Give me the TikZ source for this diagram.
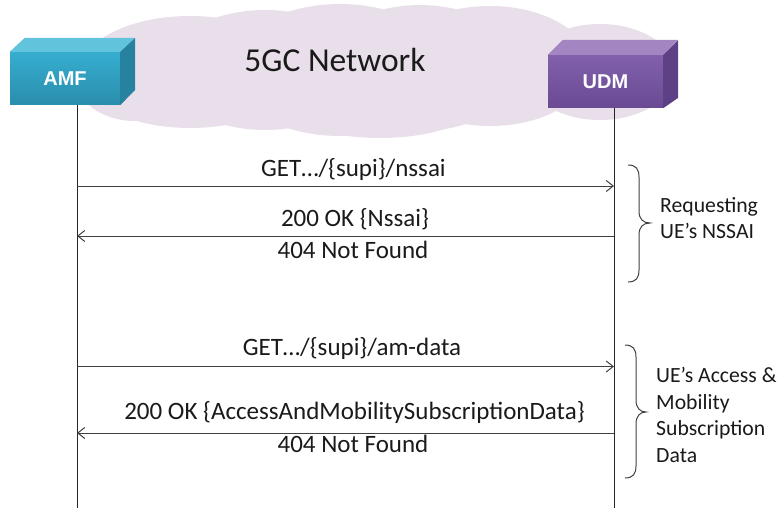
\documentclass[tikz,border=0pt]{standalone}
\usepackage{fontspec}
\setmainfont{Carlito}
\newfontfamily\boxfont{Liberation Sans}
\usetikzlibrary{arrows.meta}
\definecolor{cloudc}{HTML}{E9DFEA}
\definecolor{amfA}{HTML}{36AED0}
\definecolor{amfB}{HTML}{2A8DAC}
\definecolor{amfT}{HTML}{62C3DC}
\definecolor{amfR}{HTML}{2782A0}
\definecolor{udmA}{HTML}{8260AC}
\definecolor{udmB}{HTML}{6A4A93}
\definecolor{udmT}{HTML}{A385C2}
\definecolor{udmR}{HTML}{5E4086}
\definecolor{linec}{HTML}{404040}
\definecolor{txt}{HTML}{1A1A1A}
\tikzset{
  boxfront/.style={minimum height=53pt, inner sep=0pt, text=white, font=\boxfont\bfseries\fontsize{20}{24}\selectfont},
  life/.style={draw=black!85, line width=1pt},
  msg/.style={draw=linec, line width=1pt, -{Straight Barb[length=7pt,width=11pt]}},
  msgtext/.style={text=txt, font=\fontsize{25}{30}\selectfont, inner sep=0pt, anchor=base},
  bracelabel/.style={text=txt, font=\fontsize{21.7}{26.7}\selectfont, inner sep=0pt, align=left, anchor=north west},
  bracec/.style={draw=linec, line width=1pt}
}
\begin{document}
\begin{tikzpicture}[x=1pt,y=-1pt]
\useasboundingbox (0,0) rectangle (781,508);
% cloud
\fill[cloudc] (135,77) ellipse [x radius=60pt, y radius=44pt];
\fill[cloudc] (190,72) ellipse [x radius=110pt, y radius=56pt];
\fill[cloudc] (265,70) ellipse [x radius=100pt, y radius=60pt];
\fill[cloudc] (340,70) ellipse [x radius=110pt, y radius=66pt];
\fill[cloudc] (420,68) ellipse [x radius=100pt, y radius=63pt];
\fill[cloudc] (490,66) ellipse [x radius=100pt, y radius=60pt];
\fill[cloudc] (600,72) ellipse [x radius=75pt, y radius=48pt];
\fill[cloudc] (380,100) ellipse [x radius=100pt, y radius=38pt];
\node[text=txt, font=\fontsize{33.5}{40}\selectfont, inner sep=0pt, anchor=base] (title) at (335,72) {5GC Network};
% AMF box
\node[boxfront, minimum width=110pt, top color=amfA, bottom color=amfB] (amf) at (65,78.5) {AMF};
\fill[amfT] (amf.north west) -- ++(15,-14) -- ++(110,0) -- (amf.north east) -- cycle;
\fill[amfR] (amf.north east) -- ++(15,-14) -- ++(0,52) -- (amf.south east) -- cycle;
% UDM box
\node[boxfront, minimum width=115pt, top color=udmA, bottom color=udmB] (udm) at (605.5,81.5) {UDM};
\fill[udmT] (udm.north west) -- ++(15,-15) -- ++(115,0) -- (udm.north east) -- cycle;
\fill[udmR] (udm.north east) -- ++(15,-15) -- ++(0,58) -- (udm.south east) -- cycle;
% lifelines
\coordinate (amfL) at (77,105);
\coordinate (amfE) at (77,508);
\coordinate (udmL) at (614,108);
\coordinate (udmE) at (614,508);
\draw[life] (amfL) -- (amfE);
\draw[life] (udmL) -- (udmE);
% messages
\coordinate (m1a) at (77,186);  \coordinate (m1u) at (614,186);
\coordinate (m2a) at (77,236);    \coordinate (m2u) at (614,236);
\coordinate (m3a) at (77,366.5);  \coordinate (m3u) at (614,366.5);
\coordinate (m4a) at (77,433);    \coordinate (m4u) at (614,433);
\draw[msg] (m1a) -- (m1u);
\draw[msg] (m2u) -- (m2a);
\draw[msg] (m3a) -- (m3u);
\draw[msg] (m4u) -- (m4a);
\node[msgtext] (t1) at (353.5,176) {GET…/\{supi\}/nssai};
\node[msgtext] (t2) at (355,226) {200 OK \{Nssai\}};
\node[msgtext] (t3) at (353,258) {404 Not Found};
\node[msgtext] (t4) at (352,355) {GET…/\{supi\}/am-data};
\node[msgtext] (t5) at (354.5,419) {200 OK \{AccessAndMobilitySubscriptionData\}};
\node[msgtext] (t6) at (353,452) {404 Not Found};
% braces
\coordinate (b1t) at (628,165);
\coordinate (b1m) at (650,223);
\coordinate (b1b) at (628,282);
\draw[bracec] (b1t) .. controls (636,165) and (639,169) .. (639,177) -- (639,211)
  .. controls (639,219) and (643,223) .. (b1m)
  .. controls (643,223) and (639,227) .. (639,235) -- (639,270)
  .. controls (639,278) and (636,282) .. (b1b);
\coordinate (b2t) at (625,345);
\coordinate (b2m) at (646,412);
\coordinate (b2b) at (625,478);
\draw[bracec] (b2t) .. controls (633,345) and (636,349) .. (636,357) -- (636,400)
  .. controls (636,408) and (640,412) .. (b2m)
  .. controls (640,412) and (636,416) .. (636,424) -- (636,466)
  .. controls (636,474) and (633,478) .. (b2b);
\node[bracelabel] (l1) at (660,197) {Requesting\\UE’s NSSAI};
\node[bracelabel] (l2) at (656,367) {UE’s Access \&\\Mobility\\Subscription\\Data};
\end{tikzpicture}
\end{document}
